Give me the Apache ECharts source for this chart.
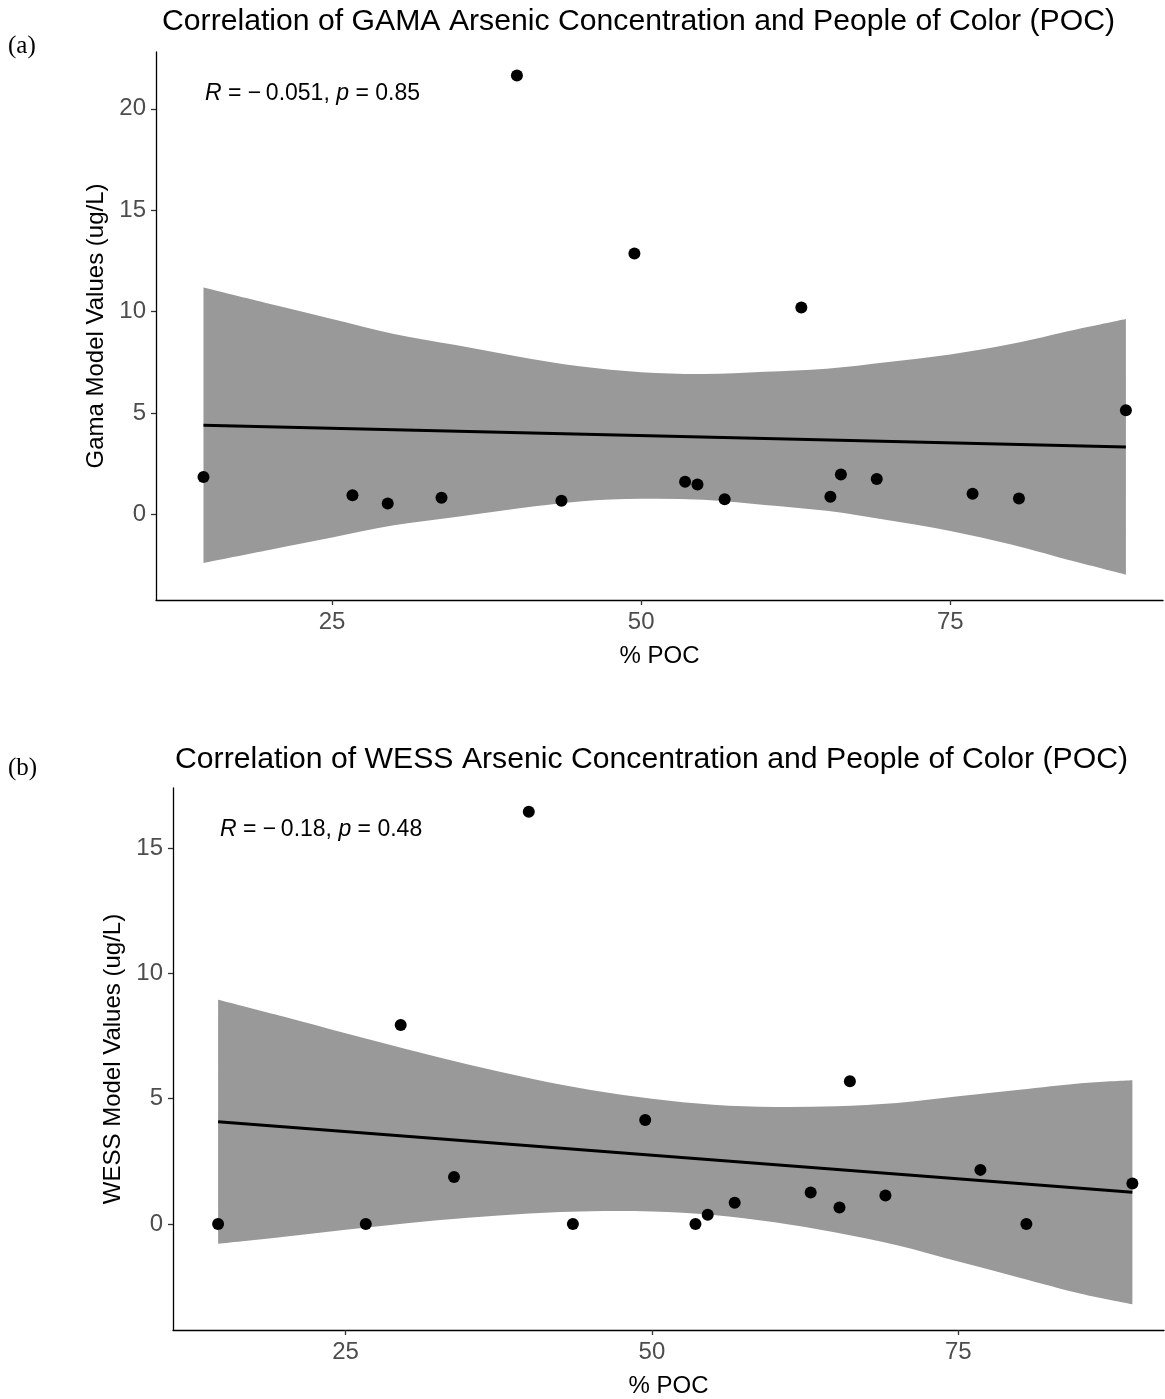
<!DOCTYPE html>
<html>
<head>
<meta charset="utf-8">
<script src="https://cdn.jsdelivr.net/npm/echarts@6/dist/echarts.min.js"></script>
<style>
html,body{margin:0;padding:0;background:#fff;}
#chart{width:1165px;height:1399px;}
</style>
</head>
<body>
<div id="chart"></div>
<script>
// ---- data ----
const poc = [14.6, 26.65, 29.5, 33.85, 39.95, 43.55, 49.45, 53.55, 54.55, 56.75, 62.95, 65.3, 66.15, 69.05, 76.8, 80.55, 89.2];
const gama = [1.85, 0.95, 0.54, 0.82, 21.64, 0.67, 12.86, 1.61, 1.48, 0.75, 10.2, 0.87, 1.97, 1.75, 1.02, 0.79, 5.14];
const wess = [0.0, 0.0, 7.94, 1.88, 16.45, 0.0, 4.15, 0.0, 0.37, 0.85, 1.26, 0.66, 5.70, 1.14, 2.16, 0.0, 1.62];

// fitted line end points
const lineX = [14.6, 89.2];
const gamaLine = [4.40, 3.33];
const wessLine = [4.08, 1.27];

// confidence band
const bandX = [14.6, 20, 25, 30, 35, 40, 45, 50, 55, 60, 65, 70, 75, 80, 85, 89.2];
const gamaUpper = [11.19, 10.38, 9.64, 8.90, 8.35, 7.79, 7.30, 7.01, 6.92, 7.03, 7.18, 7.51, 7.88, 8.41, 9.09, 9.63];
const gamaLower = [-2.39, -1.74, -1.14, -0.54, -0.13, 0.29, 0.64, 0.77, 0.72, 0.47, 0.18, -0.29, -0.82, -1.49, -2.31, -2.97];
const wessUpper = [8.95, 8.27, 7.61, 6.97, 6.37, 5.82, 5.35, 5.00, 4.76, 4.67, 4.70, 4.83, 5.10, 5.36, 5.62, 5.74];
const wessLower = [-0.79, -0.51, -0.23, 0.03, 0.25, 0.42, 0.51, 0.50, 0.36, 0.07, -0.34, -0.85, -1.50, -2.14, -2.78, -3.20];

// tick labels
const xTicks = [25, 50, 75];
const gamaTicks = [0, 5, 10, 15, 20];
const wessTicks = [0, 5, 10, 15];

// texts
const titles = ['Correlation of GAMA Arsenic Concentration and People of Color (POC)',
                'Correlation of WESS Arsenic Concentration and People of Color (POC)'];
const yNames = ['Gama Model Values (ug/L)', 'WESS Model Values (ug/L)'];
const xName = '% POC';
const stats = [['\u2212\u20090.051', '0.85'], ['\u2212\u20090.18', '0.48']];

const FONT = 'Liberation Sans, Arial, Helvetica, sans-serif';

function pairs(xs, ys) { return xs.map((x, i) => [x, ys[i]]); }

// smooth path through pixel points (Catmull-Rom -> cubic bezier), continuing an existing path
function curveThrough(pts, start) {
  let d = (start ? 'M' : 'L') + pts[0][0] + ',' + pts[0][1];
  for (let i = 0; i < pts.length - 1; i++) {
    const p0 = pts[Math.max(i - 1, 0)], p1 = pts[i], p2 = pts[i + 1], p3 = pts[Math.min(i + 2, pts.length - 1)];
    const c1x = p1[0] + (p2[0] - p0[0]) / 6, c1y = p1[1] + (p2[1] - p0[1]) / 6;
    const c2x = p2[0] - (p3[0] - p1[0]) / 6, c2y = p2[1] - (p3[1] - p1[1]) / 6;
    d += 'C' + c1x + ',' + c1y + ',' + c2x + ',' + c2y + ',' + p2[0] + ',' + p2[1];
  }
  return d;
}

function bandSeries(idx, lower, upper) {
  return {
    type: 'custom',
    xAxisIndex: idx, yAxisIndex: idx,
    z: 1,
    silent: true,
    data: bandX.map((x, i) => [x, lower[i], upper[i]]),
    encode: { x: 0, y: [1, 2] },
    renderItem: function (params, api) {
      if (params.dataIndex !== 0) return null;
      const up = bandX.map((x, i) => api.coord([x, upper[i]]));
      const lo = bandX.map((x, i) => api.coord([x, lower[i]])).reverse();
      const d = curveThrough(up, true) + curveThrough(lo, false) + 'Z';
      return { type: 'path', shape: { pathData: d }, style: { fill: '#999999' } };
    }
  };
}

function xAxisCfg(idx, min, max) {
  return {
    type: 'value', gridIndex: idx, min: min, max: max,
    name: xName, nameLocation: 'middle', nameGap: 44,
    nameTextStyle: { fontFamily: FONT, fontSize: 24, color: '#000' },
    splitLine: { show: false },
    axisLine: { show: true, onZero: false, lineStyle: { color: '#000', width: 1.3 } },
    axisTick: { show: true, length: 5, lineStyle: { color: '#333', width: 1.3 }, customValues: xTicks },
    axisLabel: { fontFamily: FONT, fontSize: 24, color: '#4d4d4d', margin: 10, customValues: xTicks }
  };
}

function yAxisCfg(idx, min, max, ticks, name, gap) {
  return {
    type: 'value', gridIndex: idx, min: min, max: max,
    name: name, nameLocation: 'middle', nameGap: gap, nameRotate: 90,
    nameTextStyle: { fontFamily: FONT, fontSize: 24, color: '#000' },
    splitLine: { show: false },
    axisLine: { show: true, onZero: false, lineStyle: { color: '#000', width: 1.3 } },
    axisTick: { show: true, length: 5, lineStyle: { color: '#333', width: 1.3 }, customValues: ticks },
    axisLabel: { fontFamily: FONT, fontSize: 24, color: '#4d4d4d', margin: 10, customValues: ticks }
  };
}

const chart = echarts.init(document.getElementById('chart'), null, { renderer: 'canvas' });

const titleStyle = { fontFamily: FONT, fontSize: 30.2, fontWeight: 'normal', color: '#000' };
const statFont = '23px ' + FONT;
const statRich = { i: { fontStyle: 'italic', fontFamily: FONT, fontSize: 23, fill: '#000' } };

const option = {
  backgroundColor: '#fff',
  animation: false,
  title: [
    { text: titles[0], left: 157, top: 2, textStyle: titleStyle },
    { text: titles[1], left: 170, top: 740, textStyle: titleStyle }
  ],
  grid: [
    { left: 156, right: 2, top: 52, bottom: 799, containLabel: false },
    { left: 173, right: 1, top: 788, bottom: 67, containLabel: false }
  ],
  xAxis: [xAxisCfg(0, 10.76, 92.2), xAxisCfg(1, 10.92, 91.78)],
  yAxis: [yAxisCfg(0, -4.22, 22.8, gamaTicks, yNames[0], 47),
          yAxisCfg(1, -4.23, 17.4, wessTicks, yNames[1], 47)],
  graphic: [
    { type: 'text', left: 8, top: 34, z: 100, style: { text: '(a)', font: '25px "Liberation Serif", "Times New Roman", serif', fill: '#000' } },
    { type: 'text', left: 8, top: 756, z: 100, style: { text: '(b)', font: '25px "Liberation Serif", "Times New Roman", serif', fill: '#000' } },
    { type: 'text', left: 205, top: 82, z: 100, style: {
        text: '{i|R} = ' + stats[0][0] + ', {i|p} = ' + stats[0][1],
        font: statFont, fill: '#000', rich: statRich } },
    { type: 'text', left: 220, top: 818, z: 100, style: {
        text: '{i|R} = ' + stats[1][0] + ', {i|p} = ' + stats[1][1],
        font: statFont, fill: '#000', rich: statRich } }
  ],
  series: [
    bandSeries(0, gamaLower, gamaUpper),
    { type: 'line', xAxisIndex: 0, yAxisIndex: 0, z: 2, data: pairs(lineX, gamaLine), showSymbol: false,
      lineStyle: { color: '#000', width: 3 }, silent: true },
    { type: 'scatter', xAxisIndex: 0, yAxisIndex: 0, z: 3, data: pairs(poc, gama), symbol: 'circle', symbolSize: 12,
      itemStyle: { color: '#000', opacity: 1 }, silent: true },
    bandSeries(1, wessLower, wessUpper),
    { type: 'line', xAxisIndex: 1, yAxisIndex: 1, z: 2, data: pairs(lineX, wessLine), showSymbol: false,
      lineStyle: { color: '#000', width: 3 }, silent: true },
    { type: 'scatter', xAxisIndex: 1, yAxisIndex: 1, z: 3, data: pairs(poc, wess), symbol: 'circle', symbolSize: 12,
      itemStyle: { color: '#000', opacity: 1 }, silent: true }
  ]
};
chart.setOption(option);
</script>
</body>
</html>
